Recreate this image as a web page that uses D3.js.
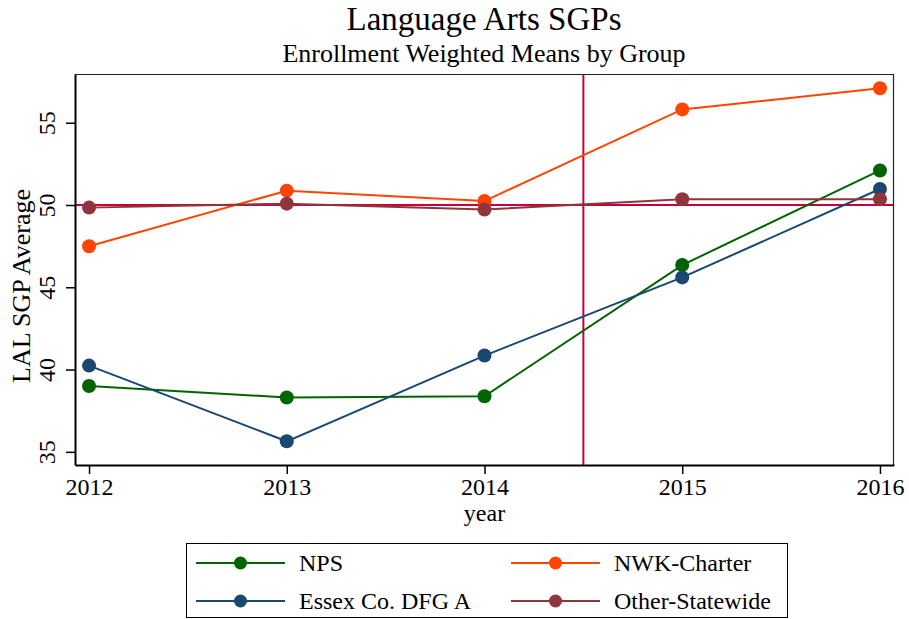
<!DOCTYPE html>
<html>
<head>
<meta charset="utf-8">
<script src="https://cdn.jsdelivr.net/npm/d3@7"></script>
<style>
  body { margin: 0; background: #fff; }
  text { font-family: "Liberation Serif", "Times New Roman", serif; fill: #000; }
</style>
</head>
<body>
<div id="chart"></div>
<script>
var svgWidth = 909;
var svgHeight = 619;

// plot region edges
var margin = { top: 74, right: 15, bottom: 154, left: 75 };
var width = svgWidth - margin.left - margin.right;
var height = svgHeight - margin.top - margin.bottom;

// data
var years = [2012, 2013, 2014, 2015, 2016];
var npsValues = [39.0, 38.3, 38.38, 46.35, 52.1];
var nwkValues = [47.49, 50.87, 50.24, 55.81, 57.09];
var essexValues = [40.24, 35.64, 40.85, 45.6, 50.97];
var otherValues = [49.84, 50.08, 49.72, 50.35, 50.35];
var seriesNames = ["NPS", "NWK-Charter", "Essex Co. DFG A", "Other-Statewide"];
var seriesColors = ["#006400", "#ff4500", "#1a476f", "#90353b"];
var yTicks = [35, 40, 45, 50, 55];
var refYear = 2014.5;
var refValue = 50;

var series = [npsValues, nwkValues, essexValues, otherValues].map(function (vals, i) {
  return {
    name: seriesNames[i],
    color: seriesColors[i],
    values: years.map(function (y, j) { return { year: y, value: vals[j] }; })
  };
});

var svg = d3.select("#chart")
  .append("svg")
  .attr("width", svgWidth)
  .attr("height", svgHeight);

var chartGroup = svg.append("g")
  .attr("transform", `translate(${margin.left}, ${margin.top})`);

// scales
var xScale = d3.scaleLinear()
  .domain([2011.929, 2016.071])
  .range([0, width]);

var yScale = d3.scaleLinear()
  .domain([34.2, 57.96])
  .range([height, 0]);

// titles
svg.append("text")
  .attr("x", 484)
  .attr("y", 30)
  .attr("text-anchor", "middle")
  .style("font-size", "33px")
  .text("Language Arts SGPs");

svg.append("text")
  .attr("x", 484)
  .attr("y", 62)
  .attr("text-anchor", "middle")
  .style("font-size", "26px")
  .text("Enrollment Weighted Means by Group");

// reference lines
var refColor = "#c8003c";
chartGroup.append("line")
  .attr("x1", 0).attr("x2", width)
  .attr("y1", yScale(refValue)).attr("y2", yScale(refValue))
  .attr("stroke", refColor)
  .attr("stroke-width", 2);

chartGroup.append("line")
  .attr("x1", xScale(refYear)).attr("x2", xScale(refYear))
  .attr("y1", 0).attr("y2", height)
  .attr("stroke", refColor)
  .attr("stroke-width", 2);

// series
var line = d3.line()
  .x(d => xScale(d.year))
  .y(d => yScale(d.value));

series.forEach(function (s) {
  chartGroup.append("path")
    .datum(s.values)
    .attr("fill", "none")
    .attr("stroke", s.color)
    .attr("stroke-width", 2)
    .attr("d", line);

  chartGroup.selectAll(null)
    .data(s.values)
    .enter()
    .append("circle")
    .attr("cx", d => xScale(d.year))
    .attr("cy", d => yScale(d.value))
    .attr("r", 7)
    .attr("fill", s.color);
});

// frame (top and right)
chartGroup.append("path")
  .attr("d", `M0,0.5H${width - 0.5}V${height}`)
  .attr("fill", "none")
  .attr("stroke", "#222")
  .attr("stroke-width", 1.2);

// axes
var bottomAxis = d3.axisBottom(xScale)
  .tickValues(years)
  .tickFormat(d3.format("d"))
  .tickSize(9)
  .tickSizeOuter(0);

var leftAxis = d3.axisLeft(yScale)
  .tickValues(yTicks)
  .tickSize(9)
  .tickSizeOuter(0);

var xAxis = chartGroup.append("g")
  .attr("transform", `translate(0, ${height})`)
  .call(bottomAxis);

xAxis.selectAll("text")
  .attr("y", 30)
  .attr("dy", 0)
  .style("font-size", "24px");

var yAxis = chartGroup.append("g")
  .call(leftAxis);

yAxis.selectAll("text")
  .attr("transform", "rotate(-90)")
  .attr("x", 0)
  .attr("y", -20)
  .attr("dy", 0)
  .attr("text-anchor", "middle")
  .style("font-size", "24px");

[xAxis, yAxis].forEach(function (ax) {
  ax.select(".domain").attr("stroke", "#000").attr("stroke-width", 2);
  ax.selectAll(".tick line").attr("stroke", "#000").attr("stroke-width", 1.5);
  ax.attr("font-family", null).attr("font-size", null);
});

// axis titles
svg.append("text")
  .attr("x", 484.5)
  .attr("y", 521)
  .attr("text-anchor", "middle")
  .style("font-size", "24px")
  .text("year");

svg.append("text")
  .attr("transform", "translate(30, 286) rotate(-90)")
  .attr("text-anchor", "middle")
  .style("font-size", "26px")
  .text("LAL SGP Average");

// legend
var legend = svg.append("g");
legend.append("rect")
  .attr("x", 186.5)
  .attr("y", 543.5)
  .attr("width", 601)
  .attr("height", 74)
  .attr("fill", "#fff")
  .attr("stroke", "#000")
  .attr("stroke-width", 1);

var legendCols = [196, 511];
var legendRows = [563, 601];

series.forEach(function (s, i) {
  var lx = legendCols[i % 2];
  var ly = legendRows[Math.floor(i / 2)];
  var item = legend.append("g").attr("transform", `translate(${lx}, ${ly})`);
  item.append("line")
    .attr("x1", 0).attr("x2", 89)
    .attr("y1", 0).attr("y2", 0)
    .attr("stroke", s.color)
    .attr("stroke-width", 2);
  item.append("circle")
    .attr("cx", 44.5)
    .attr("cy", 0)
    .attr("r", 6.5)
    .attr("fill", s.color);
  item.append("text")
    .attr("x", 103)
    .attr("y", 8)
    .style("font-size", "24px")
    .text(s.name);
});
</script>
</body>
</html>
